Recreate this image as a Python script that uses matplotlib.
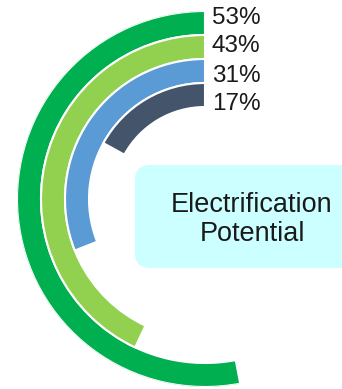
import matplotlib
matplotlib.use("Agg")
import matplotlib.pyplot as plt
import numpy as np
from matplotlib.patches import FancyBboxPatch

plt.rcParams['font.family'] = ['Liberation Sans', 'DejaVu Sans']

# data, outer ring first
values = [53, 43, 31, 17]
colors = ['#00B050', '#92D050', '#5B9BD5', '#44546A']
title_lines = ['Electrification', 'Potential']

W, H = 342, 389
fig = plt.figure(figsize=(W / 100, H / 100), dpi=100)

# polar axes centred at (205, 199) px, outer radius 188 px
cx, cy, R = 205, 199, 188
ax = fig.add_axes([(cx - R) / W, (H - cy - R) / H, 2 * R / W, 2 * R / H],
                  projection='polar')
ax.set_theta_zero_location('N')
ax.set_theta_direction(1)
ax.set_ylim(0, R)
ax.axis('off')

ring = 24
for i, (v, c) in enumerate(zip(values, colors)):
    bottom = R - ring * (i + 1)
    ax.bar(0, ring, width=v / 100 * 2 * np.pi, bottom=bottom, align='edge',
           color=c, edgecolor='white', linewidth=1.5)

# percentage labels beside the ends of the arcs
for i, v in enumerate(values):
    fig.text(212 / W, 1 - (23.5 + 29 * i) / H, f'{v}%', ha='left',
             va='baseline', fontsize=17.5, color='#1a1a1a')

# rounded caption box
box = FancyBboxPatch((1.35, 1.21), 2.3, 1.03,
                     boxstyle='round,pad=0,rounding_size=0.15',
                     transform=fig.dpi_scale_trans, facecolor='#CCFFFF',
                     edgecolor='none', zorder=0)
fig.patches.append(box)
for j, line in enumerate(title_lines):
    fig.text(252 / W, 1 - (212 + 29 * j) / H, line, ha='center',
             va='baseline', fontsize=19.5, color='#1a1a1a')

fig.savefig('out.png', dpi=100)
